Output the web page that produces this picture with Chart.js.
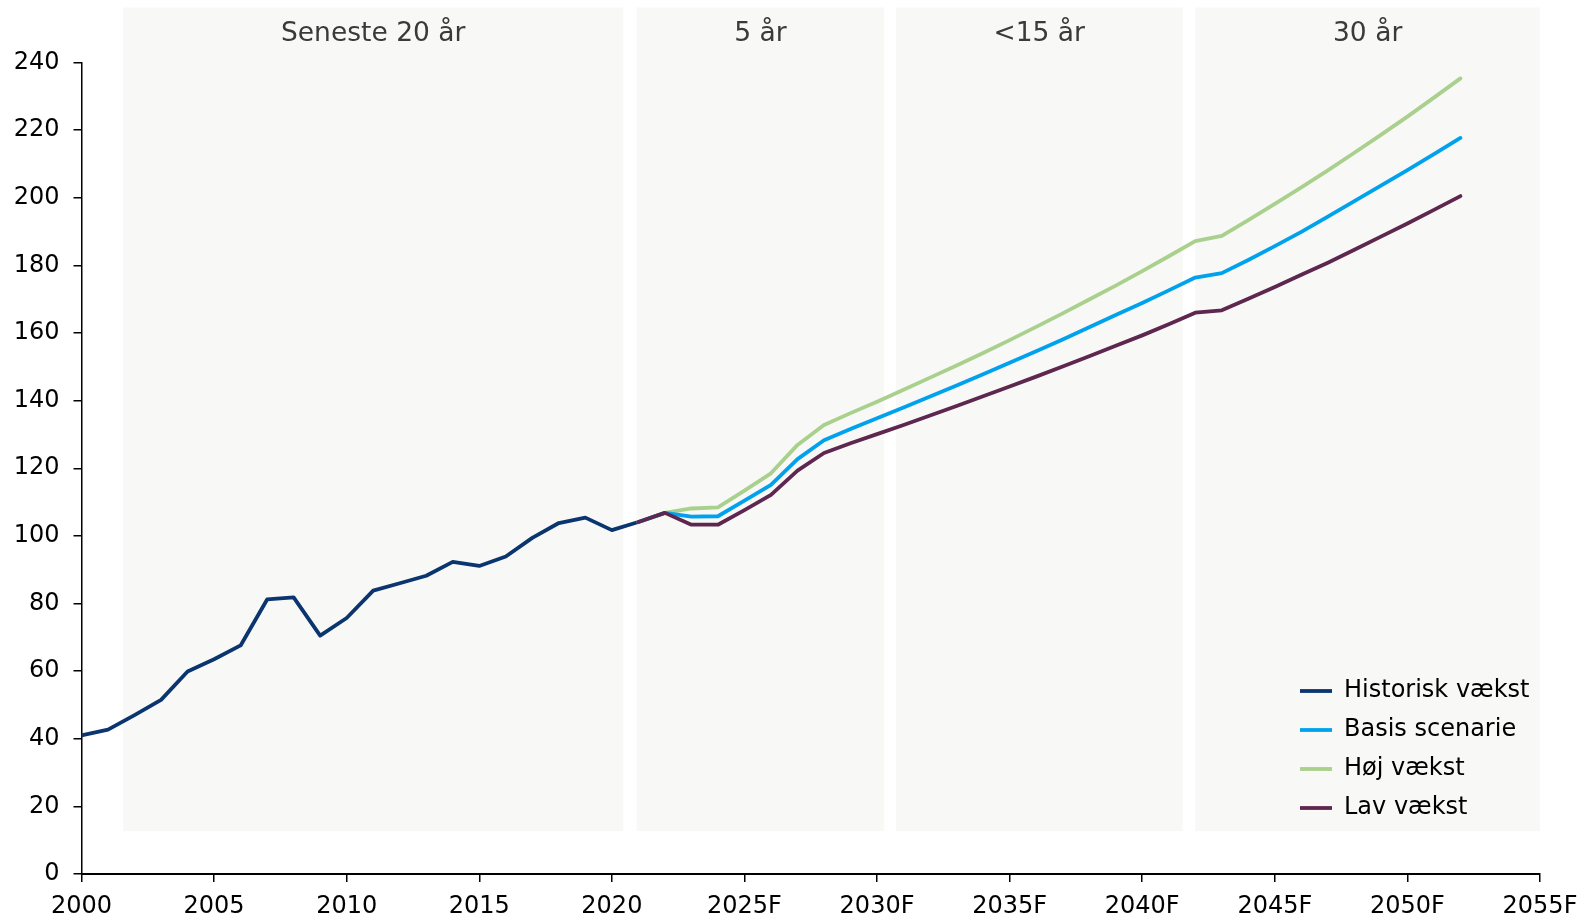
<!DOCTYPE html>
<html lang="da">
<head>
<meta charset="utf-8">
<title>Vækstscenarier</title>
<script src="https://cdn.jsdelivr.net/npm/chart.js@4"></script>
<style>
  html, body { margin: 0; padding: 0; background: #fff; }
  #wrap { width: 1580px; height: 918px; position: relative; }
</style>
</head>
<body>
<div id="wrap"><canvas id="vaekstChart"></canvas></div>
<script>
const histYears = [2000, 2001, 2002, 2003, 2004, 2005, 2006, 2007, 2008, 2009, 2010,
  2011, 2012, 2013, 2014, 2015, 2016, 2017, 2018, 2019, 2020, 2021]
const histValues = [41.0, 42.7, 47.0, 51.5, 59.9, 63.5, 67.6, 81.2, 81.8, 70.5, 75.7,
  83.8, 86.0, 88.2, 92.3, 91.1, 93.9, 99.4, 103.8, 105.4, 101.7, 104.1]

const fcYears = [2021, 2022, 2023, 2024, 2025, 2026, 2027, 2028, 2029, 2030, 2031,
  2032, 2033, 2034, 2035, 2036, 2037, 2038, 2039, 2040, 2041, 2042, 2043, 2044,
  2045, 2046, 2047, 2048, 2049, 2050, 2051, 2052]
const basisValues = [104.1, 106.8, 105.7, 105.8, 110.4, 115.1, 122.7, 128.3, 131.6, 134.8, 138.0,
  141.2, 144.5, 147.8, 151.2, 154.6, 158.1, 161.7, 165.3, 168.9, 172.6, 176.4, 177.7, 181.6,
  185.7, 189.9, 194.4, 199.0, 203.6, 208.2, 212.9, 217.7]
const hojValues = [104.1, 106.8, 108.1, 108.4, 113.4, 118.5, 126.9, 132.8, 136.3, 139.7, 143.2,
  146.8, 150.4, 154.1, 157.9, 161.8, 165.8, 169.9, 174.0, 178.3, 182.7, 187.2, 188.7, 193.4,
  198.2, 203.1, 208.1, 213.3, 218.6, 224.0, 229.6, 235.3]
const lavValues = [104.1, 106.8, 103.3, 103.3, 107.6, 112.1, 119.3, 124.5, 127.4, 130.1, 132.8,
  135.6, 138.4, 141.3, 144.2, 147.1, 150.1, 153.1, 156.2, 159.3, 162.6, 166.0, 166.7, 170.1,
  173.6, 177.2, 180.8, 184.6, 188.5, 192.4, 196.4, 200.5]

// shaded periods, in years on the x axis
const periodLabels = ['Seneste 20 år', '5 år', '<15 år', '30 år']
const periodStart = [2001.57, 2020.93, 2030.71, 2042.0]
const periodEnd = [2020.43, 2030.27, 2041.52, 2055]
const periodLow = 12.7
const periodHigh = 256.3

const seriesLabels = ['Historisk vækst', 'Basis scenarie', 'Høj vækst', 'Lav vækst']

Chart.defaults.font.family = "'DejaVu Sans', Verdana, sans-serif"
Chart.defaults.color = '#000'

const toPoints = (xs, ys) => xs.map((x, i) => ({ x, y: ys[i] }))

const periodShading = {
  id: 'periodShading',
  beforeDraw(chart) {
    const { ctx, scales } = chart
    const xs = scales.x
    const ys = scales.y
    ctx.save()
    periodLabels.forEach((label, i) => {
      const x0 = xs.getPixelForValue(periodStart[i])
      const x1 = xs.getPixelForValue(periodEnd[i])
      const y0 = ys.getPixelForValue(periodHigh)
      const y1 = ys.getPixelForValue(periodLow)
      ctx.fillStyle = '#f8f8f6'
      ctx.fillRect(x0, y0, x1 - x0, y1 - y0)
      ctx.fillStyle = '#3a3a3a'
      ctx.font = "26.5px 'DejaVu Sans', Verdana, sans-serif"
      ctx.textAlign = 'center'
      ctx.textBaseline = 'middle'
      ctx.fillText(label, (x0 + x1) / 2, y0 + 27)
    })
    ctx.restore()
  },
}

// move the legend box to the lower right corner of the plot
const legendCorner = {
  id: 'legendCorner',
  afterLayout(chart) {
    const lg = chart.legend
    const area = chart.chartArea
    if (!lg) return
    lg.left = area.right - 255
    lg.right = area.right
    lg.top = area.bottom - 210
    lg.bottom = area.bottom
  },
}

const lineStyle = {
  borderWidth: 3.8,
  borderCapStyle: 'round',
  borderJoinStyle: 'round',
  tension: 0,
  fill: false,
  pointRadius: 0,
  pointHoverRadius: 0,
}

const ctx = document.getElementById('vaekstChart').getContext('2d')
new Chart(ctx, {
  type: 'line',
  data: {
    datasets: [
      {
        ...lineStyle,
        label: seriesLabels[0],
        data: toPoints(histYears, histValues),
        borderColor: '#0a356f',
        order: 3,
      },
      {
        ...lineStyle,
        label: seriesLabels[1],
        data: toPoints(fcYears, basisValues),
        borderColor: '#00a2ee',
        order: 1,
      },
      {
        ...lineStyle,
        label: seriesLabels[2],
        data: toPoints(fcYears, hojValues),
        borderColor: '#a9d08c',
        order: 2,
      },
      {
        ...lineStyle,
        label: seriesLabels[3],
        data: toPoints(fcYears, lavValues),
        borderColor: '#5e2750',
        order: 0,
      },
    ],
  },
  options: {
    responsive: true,
    maintainAspectRatio: false,
    animation: false,
    layout: {
      padding: { top: 62.5, right: 40, bottom: 0, left: 0 },
    },
    plugins: {
      tooltip: { enabled: false },
      legend: {
        position: 'chartArea',
        align: 'start',
        labels: {
          usePointStyle: true,
          pointStyle: 'line',
          pointStyleWidth: 32,
          padding: 15,
          color: '#000',
          font: { size: 24 },
          sort: (a, b) => a.datasetIndex - b.datasetIndex,
        },
      },
    },
    scales: {
      x: {
        type: 'linear',
        min: 2000,
        max: 2055,
        afterFit(scale) {
          scale.height = 44
          scale.paddingLeft = 0
          scale.paddingRight = 0
        },
        border: { display: true, color: '#000', width: 2 },
        grid: {
          drawOnChartArea: false,
          drawTicks: true,
          tickLength: 8,
          color: '#000',
          lineWidth: 1.5,
        },
        ticks: {
          stepSize: 5,
          autoSkip: false,
          maxRotation: 0,
          padding: 10,
          color: '#000',
          font: { size: 24 },
          callback: (value) => (value >= 2025 ? value + 'F' : String(value)),
        },
      },
      y: {
        min: 0,
        max: 240,
        afterFit(scale) {
          scale.width = 81.5
        },
        border: { display: true, color: '#000', width: 1.5 },
        grid: {
          drawOnChartArea: false,
          drawTicks: true,
          tickLength: 8,
          color: '#000',
          lineWidth: 1.5,
        },
        ticks: {
          stepSize: 20,
          padding: 14,
          color: '#000',
          font: { size: 24 },
        },
      },
    },
  },
  plugins: [periodShading, legendCorner],
})
</script>
</body>
</html>
